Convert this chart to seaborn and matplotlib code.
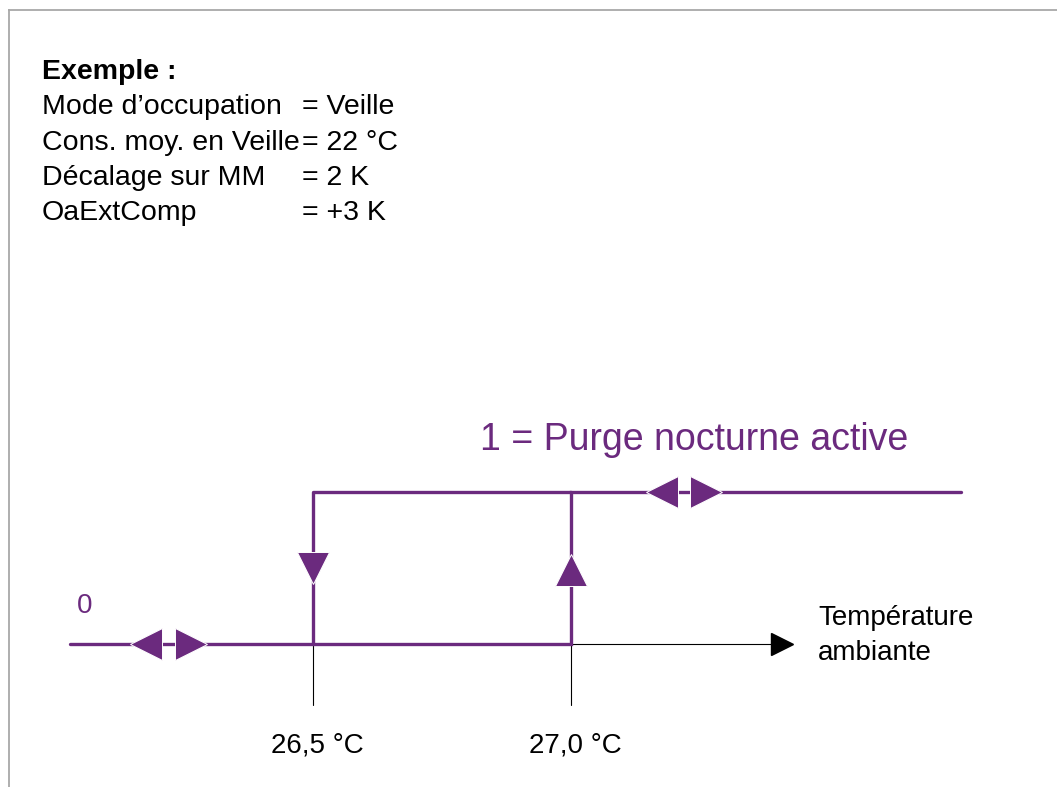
import numpy as np
import pandas as pd
import seaborn as sns
import matplotlib.pyplot as plt

sns.set_style('white')
plt.rcParams['font.family'] = ['Liberation Sans', 'DejaVu Sans']
plt.rcParams['text.color'] = 'black'

PURPLE = '#6b2a7e'

# hysteresis thresholds (°C) and their labels
thresholds = [26.5, 27.0]
threshold_labels = ['26,5 °C', '27,0 °C']

# state curve: lower branch rising at 27.0, upper branch falling at 26.5
rise_temp = [26.03, 27.0, 27.0, 27.756]
rise_state = [0, 0, 1, 1]
fall_temp = [26.5, 26.5, 27.0]
fall_state = [0, 1, 1]

# temperature axis end and double arrows on each branch
axis_end = 27.41
low_arrows = [26.178, 26.265]
high_arrows = [27.177, 27.263]

example_keys = ['Mode d\u2019occupation', 'Cons. moy. en Veille', 'Décalage sur MM', 'OaExtComp']
example_vals = ['= Veille', '= 22 °C', '= 2 K', '= +3 K']

W, H = 1057, 787
fig = plt.figure(figsize=(W / 100, H / 100), dpi=100)
ax = fig.add_axes([9 / W, 0, 1048 / W, 777 / H])

# pixel mapping: 26.5 °C -> x=312.5, 516 px per K ; state 0 -> y=644, 152 px per unit
ax.set_xlim(26.5 - (312.5 - 9) / 516, 26.5 + (W - 312.5) / 516)
ax.set_ylim((644 - 787) / 152, (644 - 10) / 152)
ax.set_xticks([])
ax.set_yticks([])
for side in ['right', 'bottom']:
    ax.spines[side].set_visible(False)
for side in ['top', 'left']:
    ax.spines[side].set_color('#a8a8a8')
    ax.spines[side].set_linewidth(1.3)

# tick marks under the thresholds
for t, lab in zip(thresholds, threshold_labels):
    ax.plot([t, t], [0, -0.401], color='black', lw=0.8, zorder=1)
    ax.text(t + 5 / 516, (644 - 752) / 152, lab, ha='center', va='baseline', fontsize=20)

# temperature axis with arrow
ax.plot([thresholds[1], axis_end], [0, 0], color='black', lw=0.8, zorder=1)
ax.plot([axis_end], [0], marker='>', ms=16.5, color='black', ls='none', zorder=1)

curves = pd.DataFrame({
    'temp': rise_temp + fall_temp,
    'state': rise_state + fall_state,
    'branch': ['rise'] * len(rise_temp) + ['fall'] * len(fall_temp),
})
sns.lineplot(data=curves, x='temp', y='state', units='branch', estimator=None,
             sort=False, color=PURPLE, lw=2.4, ax=ax, zorder=3)
for line in ax.lines[-1:]:
    line.set_solid_joinstyle('miter')

mk = dict(color=PURPLE, ls='none', mec='white', mew=0.7, zorder=4)
ax.plot([low_arrows[0]], [0], marker='<', ms=23, **mk)
ax.plot([low_arrows[1]], [0], marker='>', ms=23, **mk)
ax.plot([high_arrows[0]], [1], marker='<', ms=23, **mk)
ax.plot([high_arrows[1]], [1], marker='>', ms=23, **mk)
ax.plot([thresholds[0]], [0.5], marker='v', ms=23, **mk)
ax.plot([thresholds[1]], [0.49], marker='^', ms=23, **mk)
ax.set_xlabel('')
ax.set_ylabel('')

# state labels
ax.text(26.5 + (85 - 312.5) / 516, (644 - 613) / 152, '0', color=PURPLE,
        ha='center', va='baseline', fontsize=20)
ax.text(26.5 + (480 - 312.5) / 516, (644 - 450) / 152, '1 = Purge nocturne active',
        color=PURPLE, ha='left', va='baseline', fontsize=27)

fig.text(818 / W, 1 - 625 / H, 'Température', ha='left', va='baseline', fontsize=20)
fig.text(818 / W, 1 - 660 / H, 'ambiante', ha='left', va='baseline', fontsize=20)

# example block
fig.text(42 / W, 1 - 79 / H, 'Exemple :', fontweight='bold', ha='left', va='baseline', fontsize=20.5)
for i, (k, v) in enumerate(zip(example_keys, example_vals)):
    yb = 1 - (114.5 + 35.3 * i) / H
    fig.text(42 / W, yb, k, ha='left', va='baseline', fontsize=20.5)
    fig.text(302 / W, yb, v, ha='left', va='baseline', fontsize=20.5)

fig.savefig('out.png', dpi=100)
